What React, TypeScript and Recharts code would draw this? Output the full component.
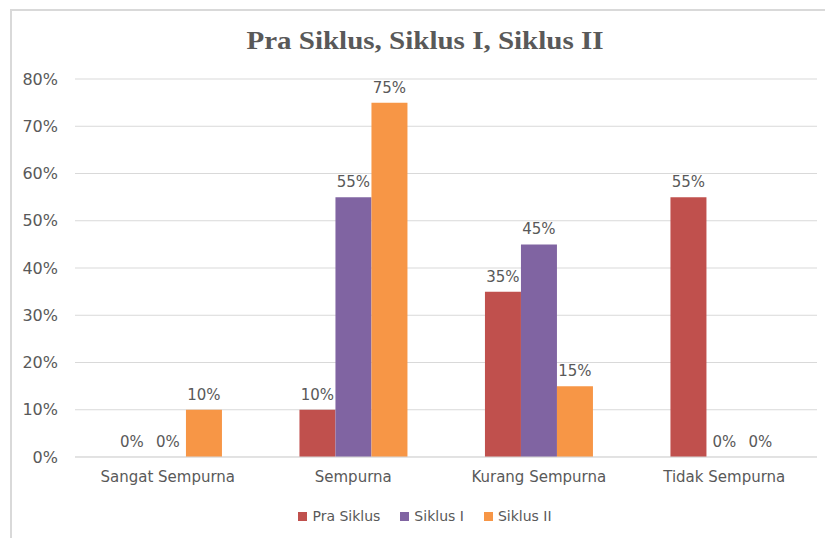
import React from "react";
import { BarChart, Bar, XAxis, YAxis, CartesianGrid, LabelList } from "recharts";

// Pra Siklus / Siklus I / Siklus II — grouped percentage bars.

const categories = ["Sangat Sempurna", "Sempurna", "Kurang Sempurna", "Tidak Sempurna"];
const praSiklus = [0, 10, 35, 55];
const siklusI = [0, 55, 45, 0];
const siklusII = [10, 75, 15, 0];
const yTicks = [0, 10, 20, 30, 40, 50, 60, 70, 80];

const C = { red: "#C0504D", purple: "#8064A2", orange: "#F79646", ink: "#595959", grid: "#D9D9D9" };
const font = "'DejaVu Sans', sans-serif";

const series = [
  { key: "pra", name: "Pra Siklus", color: C.red },
  { key: "s1", name: "Siklus I", color: C.purple },
  { key: "s2", name: "Siklus II", color: C.orange },
];

const rows = categories.map((c, i) => ({
  c,
  pra: praSiklus[i],
  s1: siklusI[i],
  s2: siklusII[i],
}));

const pct = (v: any) => (v === null || v === undefined ? "" : `${v}%`);
// zero-height bars get dropped otherwise, and their "0%" labels with them
const tinyZero = (v: any) => (v === 0 ? 0.01 : 0);

export default function App() {
  return (
    <div style={{ position: "absolute", left: 0, top: 0, width: 825, height: 538, background: "#fff" }}>
      <div style={{ position: "absolute", left: 10, top: 9, right: 0, bottom: 0, borderTop: `2px solid ${C.grid}`, borderLeft: `2px solid ${C.grid}` }} />
      <div style={{ position: "absolute", left: 0, width: 850, top: 27, textAlign: "center", fontFamily: "'Liberation Serif', serif", fontWeight: 700, fontSize: 25, color: C.ink, transform: "scaleX(1.16)", transformOrigin: "425px 0" }}>
        Pra Siklus, Siklus I, Siklus II
      </div>
      <div style={{ position: "absolute", left: 0, top: 0 }}>
        <BarChart width={825} height={538} data={rows} margin={{ top: 79, right: 8, left: 0, bottom: 0 }}
          barCategoryGap="21%" barGap={0}>
          <CartesianGrid stroke={C.grid} vertical={false} />
          <XAxis dataKey="c" axisLine={{ stroke: C.grid }} tickLine={false} height={81} tickSize={0} tickMargin={14}
            tick={{ fill: C.ink, fontSize: 15, fontFamily: font }} interval={0} />
          <YAxis domain={[0, 80]} ticks={yTicks} tickFormatter={(v: number) => `${v}%`} axisLine={false} tickLine={false}
            width={75} tickSize={0} tickMargin={17} tick={{ fill: C.ink, fontSize: 16, fontFamily: font }} />
          {series.map((s) => (
            <Bar key={s.key} dataKey={s.key} name={s.name} fill={s.color} isAnimationActive={false} minPointSize={tinyZero}>
              <LabelList dataKey={s.key} position="top" formatter={pct} fill={C.ink} fontSize={15} fontFamily={font} offset={10} />
            </Bar>
          ))}
        </BarChart>
      </div>
      <div style={{ position: "absolute", left: 0, width: 850, top: 508, display: "flex", justifyContent: "center", gap: 20, fontFamily: font, fontSize: 14, color: C.ink }}>
        {series.map((s) => (
          <div key={s.key} style={{ display: "flex", alignItems: "center", gap: 5 }}>
            <span style={{ width: 9, height: 9, background: s.color, display: "inline-block" }} />
            <span>{s.name}</span>
          </div>
        ))}
      </div>
    </div>
  );
}
